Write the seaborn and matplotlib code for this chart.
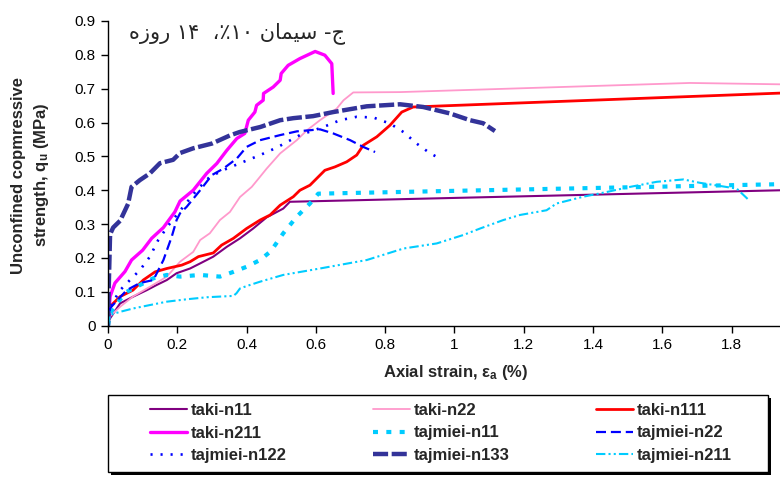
import matplotlib
matplotlib.use("Agg")
import matplotlib.pyplot as plt
import seaborn as sns
import pandas as pd
from matplotlib.patches import Rectangle

# ---------------- data ----------------
taki_n11_x = [0, 0.003, 0.035, 0.073, 0.112, 0.14, 0.17, 0.198, 0.237, 0.266, 0.304, 0.343, 0.381, 0.419, 0.458, 0.506, 0.525, 1.94]
taki_n11_y = [0, 0.017, 0.066, 0.086, 0.105, 0.12, 0.135, 0.155, 0.169, 0.184, 0.204, 0.233, 0.258, 0.287, 0.32, 0.346, 0.366, 0.40]

taki_n22_x = [0, 0.005, 0.035, 0.072, 0.121, 0.17, 0.208, 0.246, 0.266, 0.294, 0.323, 0.352, 0.381, 0.415, 0.435, 0.458, 0.497, 0.545, 0.574, 0.612, 0.66, 0.68, 0.708, 0.843, 1.68, 1.94]
taki_n22_y = [0, 0.027, 0.056, 0.086, 0.115, 0.145, 0.189, 0.218, 0.253, 0.273, 0.312, 0.336, 0.38, 0.41, 0.435, 0.464, 0.509, 0.548, 0.577, 0.607, 0.641, 0.666, 0.689, 0.69, 0.717, 0.713]

taki_n111_x = [0, 0.003, 0.01, 0.035, 0.072, 0.102, 0.136, 0.17, 0.213, 0.237, 0.261, 0.304, 0.328, 0.362, 0.40, 0.439, 0.468, 0.497, 0.535, 0.554, 0.583, 0.626, 0.655, 0.689, 0.718, 0.737, 0.776, 0.814, 0.848, 0.881, 1.94]
taki_n111_y = [0, 0.04, 0.061, 0.086, 0.105, 0.135, 0.159, 0.169, 0.179, 0.189, 0.204, 0.215, 0.238, 0.258, 0.287, 0.312, 0.327, 0.356, 0.381, 0.40, 0.415, 0.459, 0.469, 0.484, 0.504, 0.533, 0.558, 0.592, 0.631, 0.646, 0.687]

taki_n211_x = [0, 0.003, 0.006, 0.02, 0.049, 0.068, 0.10, 0.126, 0.16, 0.193, 0.208, 0.246, 0.285, 0.314, 0.343, 0.372, 0.395, 0.405, 0.424, 0.429, 0.448, 0.449, 0.477, 0.497, 0.50, 0.52, 0.554, 0.598, 0.626, 0.646, 0.65]
taki_n211_y = [0, 0.04, 0.086, 0.126, 0.16, 0.194, 0.223, 0.258, 0.29, 0.336, 0.368, 0.40, 0.45, 0.479, 0.518, 0.553, 0.568, 0.607, 0.631, 0.651, 0.666, 0.686, 0.705, 0.725, 0.745, 0.769, 0.789, 0.810, 0.799, 0.774, 0.686]

tajmiei_n11_x = [0, 0.006, 0.025, 0.054, 0.092, 0.131, 0.17, 0.208, 0.266, 0.323, 0.362, 0.40, 0.439, 0.47, 0.506, 0.545, 0.583, 0.607, 0.843, 1.94]
tajmiei_n11_y = [0, 0.037, 0.066, 0.10, 0.12, 0.14, 0.15, 0.145, 0.15, 0.145, 0.159, 0.174, 0.194, 0.22, 0.273, 0.322, 0.361, 0.39, 0.395, 0.418]

tajmiei_n22_x = [0, 0.006, 0.054, 0.092, 0.131, 0.16, 0.184, 0.198, 0.208, 0.227, 0.266, 0.30, 0.333, 0.372, 0.40, 0.439, 0.497, 0.545, 0.612, 0.65, 0.699, 0.737, 0.771]
tajmiei_n22_y = [0, 0.052, 0.105, 0.126, 0.135, 0.194, 0.263, 0.312, 0.332, 0.351, 0.40, 0.445, 0.464, 0.494, 0.528, 0.548, 0.563, 0.574, 0.58, 0.568, 0.548, 0.528, 0.513]

tajmiei_n122_x = [0, 0.006, 0.035, 0.073, 0.092, 0.121, 0.145, 0.175, 0.217, 0.256, 0.294, 0.343, 0.391, 0.439, 0.487, 0.554, 0.622, 0.67, 0.718, 0.766, 0.814, 0.853, 0.891, 0.93, 0.958]
tajmiei_n122_y = [0, 0.056, 0.105, 0.145, 0.164, 0.204, 0.253, 0.297, 0.351, 0.40, 0.44, 0.464, 0.484, 0.504, 0.526, 0.563, 0.587, 0.607, 0.617, 0.615, 0.597, 0.572, 0.538, 0.509, 0.494]

tajmiei_n133_x = [0, 0.003, 0.006, 0.015, 0.035, 0.058, 0.068, 0.092, 0.121, 0.15, 0.188, 0.208, 0.246, 0.30, 0.352, 0.38, 0.44, 0.497, 0.535, 0.592, 0.65, 0.747, 0.843, 0.91, 0.987, 1.045, 1.083, 1.117]
tajmiei_n133_y = [0, 0.15, 0.27, 0.29, 0.31, 0.36, 0.41, 0.43, 0.45, 0.48, 0.49, 0.51, 0.524, 0.538, 0.562, 0.572, 0.587, 0.607, 0.613, 0.619, 0.631, 0.648, 0.654, 0.646, 0.627, 0.607, 0.598, 0.575]

tajmiei_n211_x = [0, 0.006, 0.035, 0.073, 0.121, 0.17, 0.227, 0.285, 0.323, 0.362, 0.371, 0.381, 0.40, 0.439, 0.506, 0.612, 0.747, 0.853, 0.949, 1.026, 1.074, 1.141, 1.189, 1.266, 1.295, 1.372, 1.44, 1.507, 1.584, 1.661, 1.709, 1.815, 1.848]
tajmiei_n211_y = [0, 0.032, 0.041, 0.051, 0.061, 0.071, 0.078, 0.084, 0.086, 0.088, 0.096, 0.11, 0.117, 0.13, 0.15, 0.169, 0.194, 0.228, 0.243, 0.268, 0.287, 0.312, 0.327, 0.341, 0.361, 0.381, 0.395, 0.41, 0.425, 0.432, 0.422, 0.405, 0.373]

series_names = ["taki-n11", "taki-n22", "taki-n111", "taki-n211",
                "tajmiei-n11", "tajmiei-n22", "tajmiei-n122", "tajmiei-n133", "tajmiei-n211"]
series_x = [taki_n11_x, taki_n22_x, taki_n111_x, taki_n211_x,
            tajmiei_n11_x, tajmiei_n22_x, tajmiei_n122_x, tajmiei_n133_x, tajmiei_n211_x]
series_y = [taki_n11_y, taki_n22_y, taki_n111_y, taki_n211_y,
            tajmiei_n11_y, tajmiei_n22_y, tajmiei_n122_y, tajmiei_n133_y, tajmiei_n211_y]

x_ticks = [0, 0.2, 0.4, 0.6, 0.8, 1.0, 1.2, 1.4, 1.6, 1.8]
x_tick_labels = ["0", "0.2", "0.4", "0.6", "0.8", "1", "1.2", "1.4", "1.6", "1.8"]
y_ticks = [0, 0.1, 0.2, 0.3, 0.4, 0.5, 0.6, 0.7, 0.8, 0.9]
y_tick_labels = ["0", "0.1", "0.2", "0.3", "0.4", "0.5", "0.6", "0.7", "0.8", "0.9"]

# ---------------- styles ----------------
styles = {
    "taki-n11":     dict(color="#800080", lw=1.5, ls="-"),
    "taki-n22":     dict(color="#FF99CC", lw=1.3, ls="-"),
    "taki-n111":    dict(color="#FF0000", lw=2.0, ls="-"),
    "taki-n211":    dict(color="#FF00FF", lw=2.4, ls="-"),
    "tajmiei-n11":  dict(color="#00CCFF", lw=3.0, ls=(0, (1.2, 2.0))),
    "tajmiei-n22":  dict(color="#0000FF", lw=1.6, ls=(0, (4.5, 2.2))),
    "tajmiei-n122": dict(color="#0000FF", lw=1.9, ls=(0, (0.8, 3.0))),
    "tajmiei-n133": dict(color="#333399", lw=3.2, ls=(0, (3.4, 0.8))),
    "tajmiei-n211": dict(color="#00CCFF", lw=1.5, ls=(0, (4.5, 1.5, 1.0, 1.5, 1.0, 1.5))),
}

sns.set_style("ticks")
plt.rcParams["font.family"] = ["Liberation Sans", "DejaVu Sans"]
plt.rcParams["mathtext.fontset"] = "custom"
plt.rcParams["mathtext.bf"] = "Liberation Sans:bold"
plt.rcParams["mathtext.rm"] = "Liberation Sans:bold"

W, H = 780, 484
fig = plt.figure(figsize=(W / 100, H / 100), dpi=100)
ax_left, ax_right, ax_top, ax_bottom = 108, 780, 21, 325.7
ax = fig.add_axes([ax_left / W, 1 - ax_bottom / H, (ax_right - ax_left) / W, (ax_bottom - ax_top) / H])

handles = {}
for name, xs, ys in zip(series_names, series_x, series_y):
    st = styles[name]
    df = pd.DataFrame({"x": xs, "y": ys})
    sns.lineplot(data=df, x="x", y="y", ax=ax, sort=False, estimator=None,
                 color=st["color"], linewidth=st["lw"], linestyle=st["ls"], legend=False)
    handles[name] = ax.get_lines()[-1]

xmax = (ax_right - ax_left) / 346.4
ax.set_xlim(0, xmax)
ax.set_ylim(0, 0.9)
ax.set_xticks(x_ticks)
ax.set_xticklabels(x_tick_labels)
ax.set_yticks(y_ticks)
ax.set_yticklabels(y_tick_labels)
ax.tick_params(direction="out", length=5, width=1, colors="black", labelsize=11, pad=4)
for s in ["top", "right"]:
    ax.spines[s].set_visible(False)
for s in ["left", "bottom"]:
    ax.spines[s].set_color("black")
    ax.spines[s].set_linewidth(1)
ax.set_xlabel("")
ax.set_ylabel("")
ax.set_facecolor("white")

fig.text(456 / W, 1 - 372 / H, r"Axial strain, $\mathbf{\varepsilon_a}$ (%)", ha="center", va="center",
         fontsize=12, fontweight="bold")
fig.text(31 / W, 1 - 175 / H, "Unconfined copmressive\n" + r"strength, $\mathbf{q_u}$ (MPa)",
         ha="center", va="center", rotation=90, fontsize=12, fontweight="bold", linespacing=1.4,
         multialignment="center")

# Persian title, shaped with presentation forms, in visual order
title = ("\uFEE9\uFEAF\uFEED\uFEAD" + " " + "\u06F1\u06F4" + "  " + "\u060C\u066A\u06F1\u06F0" + " "
         + "\uFEE5\uFE8E\uFEE4\uFBFF\uFEB3" + " " + "-" + "\uFE9D")
fig.text(237 / W, 1 - 33 / H, title, ha="center", va="center", fontsize=15,
         family=["DejaVu Sans", "Noto Sans"])

# legend box with shadow
bx0, by0, bx1, by1 = 108, 395, 768, 472
fig.patches.append(Rectangle(((bx0 + 3) / W, 1 - (by1 + 3) / H), (bx1 - bx0) / W, (by1 - by0) / H,
                             transform=fig.transFigure, facecolor="black", edgecolor="none", zorder=1))
fig.patches.append(Rectangle((bx0 / W, 1 - by1 / H), (bx1 - bx0) / W, (by1 - by0) / H,
                             transform=fig.transFigure, facecolor="white", edgecolor="black",
                             linewidth=1, zorder=2))

col_groups = [["taki-n11", "taki-n211", "tajmiei-n122"],
              ["taki-n22", "tajmiei-n11", "tajmiei-n133"],
              ["taki-n111", "tajmiei-n22", "tajmiei-n211"]]
col_x = [150, 373, 596]
for cx, grp in zip(col_x, col_groups):
    leg = fig.legend([handles[n] for n in grp], grp, loc="upper left",
                     bbox_to_anchor=(cx / W, 1 - 403 / H), frameon=False, ncol=1,
                     handlelength=2.2, handletextpad=0.25, labelspacing=0.45,
                     borderpad=0, borderaxespad=0,
                     prop=dict(family="Liberation Sans", weight="bold", size=12))
    leg.set_zorder(5)

fig.savefig("out.png", dpi=100, facecolor="white")
